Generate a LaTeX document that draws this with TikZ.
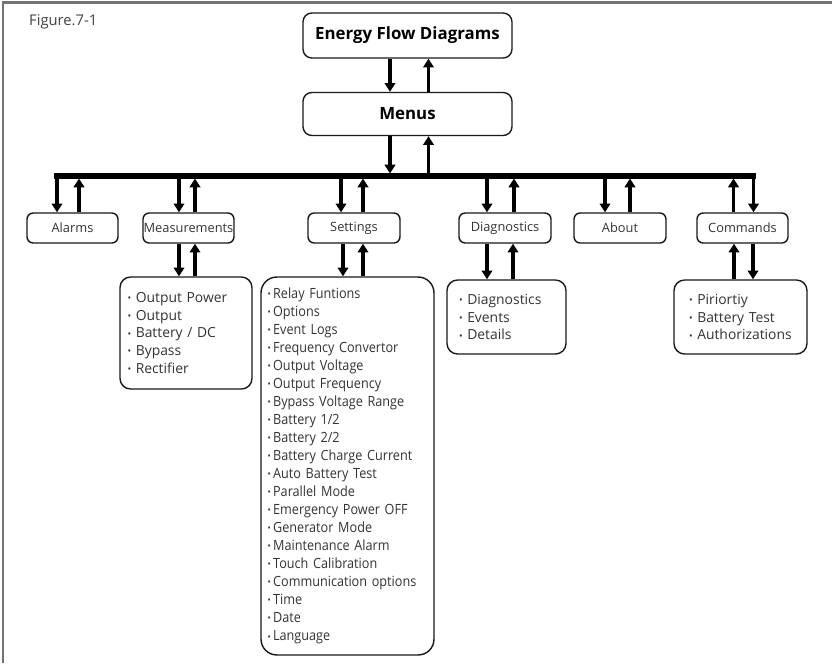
\documentclass[tikz,border=0pt]{standalone}
\usepackage{fontspec}
\setmainfont{Open Sans}
\newfontfamily\condfont[FakeStretch=0.9]{Open Sans}
\usetikzlibrary{arrows.meta,calc,positioning}
\newcommand{\itm}{\raisebox{.12ex}{\fontsize{5.5}{5}\selectfont\textbullet}}

\tikzset{
	box/.style={draw=black!90, line width=0.8pt, rounded corners=3.5pt, text=black!80,
		font=\fontsize{7.3}{9}\selectfont, minimum height=6mm, inner sep=0pt},
	topbox/.style={box, rounded corners=5pt, text=black, font=\bfseries\fontsize{9.6}{11}\selectfont},
	listbox/.style={box, rounded corners=6pt, align=left, font=\fontsize{7.9}{10.2}\selectfont},
	setlist/.style={listbox, rounded corners=9pt, font=\condfont\fontsize{8}{10.26}\selectfont},
	arr/.style={line width=1.8pt, -{Triangle[width=6pt,length=5pt]}},
	bus/.style={line width=2.9pt},
	frame/.style={draw=black!55, line width=1.4pt}
}

\begin{document}
\begin{tikzpicture}[x=0.02cm, y=-0.02cm]
		%%%%% START %%%%%
		\useasboundingbox (0,0) rectangle (832,663);
		\draw[frame] (3,663) -- (3,2.5) -- (832,2.5);
		
		\node[anchor=west, text=black!75, font=\fontsize{8.4}{10}\selectfont] (fig) at (23,22) {Figure.7-1};
		
		% top of the menu tree
		\node[topbox, minimum width=41.8mm, minimum height=9mm] (efd) at (407.5,35.5) {Energy Flow Diagrams};
		\node[topbox, minimum width=41.8mm, minimum height=8.6mm] (menus) at (407.5,114) {Menus};
		\draw[arr] ($(efd.south)+(-17.5,0)$) -- ($(menus.north)+(-17.5,0)$);
		\draw[arr] ($(menus.north)+(21,0)$) -- ($(efd.south)+(21,0)$);
		
		% bus
		\coordinate (busL) at (54,176);
		\coordinate (busR) at (756,176);
		\coordinate (busT) at (0,173.5);
		\coordinate (busB) at (0,178.5);
		\draw[bus] (busL) -- (busR);
		\coordinate (mdn) at ($(menus.south)+(-17.5,0)$);
		\coordinate (mup) at ($(menus.south)+(21,0)$);
		\draw[arr] (mdn) -- (mdn |- busT);
		\draw[arr] (mup |- busT) -- (mup);
		
		% menu items
		\node[box, minimum width=18.2mm] (alarms) at (72.5,228) {Alarms};
		\node[box, minimum width=18.2mm] (meas) at (188.5,228) {Measurements};
		\node[box, minimum width=18.4mm] (sett) at (354,228) {Settings};
		\node[box, minimum width=18.4mm] (diag) at (505,228) {Diagnostics};
		\node[box, minimum width=18.4mm] (about) at (620,228) {About};
		\node[box, minimum width=18.2mm] (cmd) at (742.5,228) {Commands};
		
		\foreach \n/\a/\b in {alarms/-15.5/6.5, meas/-9.5/6.5, sett/-13/9, diag/-18/9, about/-15/10} {
			\coordinate (\n-dn) at ($(\n.north)+(\a,0)$);
			\coordinate (\n-up) at ($(\n.north)+(\b,0)$);
			\draw[arr] (\n-dn |- busB) -- (\n-dn);
			\draw[arr] (\n-up) -- (\n-up |- busB);
		}
		\coordinate (cmd-up) at ($(cmd.north)+(-9,0)$);
		\coordinate (cmd-dn) at ($(cmd.north)+(11,0)$);
		\draw[arr] (cmd-up) -- (cmd-up |- busB);
		\draw[arr] (cmd-dn |- busB) -- (cmd-dn);
		
		% sub lists
		\node[listbox, minimum width=26.4mm, text width=23.4mm, minimum height=22.4mm] (measlist) at (186,333)
			{\itm{} Output Power\\ \itm{} Output\\ \itm{} Battery / DC\\ \itm{} Bypass\\ \itm{} Rectifier};
		\node[setlist, minimum width=34.6mm, text width=32mm, minimum height=75.6mm] (settlist) at (347.5,466)
			{\itm\,Relay Funtions\\ \itm\,Options\\ \itm\,Event Logs\\ \itm\,Frequency Convertor\\
			 \itm\,Output Voltage\\ \itm\,Output Frequency\\ \itm\,Bypass Voltage Range\\ \itm\,Battery 1/2\\
			 \itm\,Battery 2/2\\ \itm\,Battery Charge Current\\ \itm\,Auto Battery Test\\ \itm\,Parallel Mode\\
			 \itm\,Emergency Power OFF\\ \itm\,Generator Mode\\ \itm\,Maintenance Alarm\\ \itm\,Touch Calibration\\
			 \itm\,Communication options\\ \itm\,Time\\ \itm\,Date\\ \itm\,Language};
		\node[listbox, minimum width=23.8mm, text width=19mm, minimum height=14.8mm] (diaglist) at (506.5,317)
			{\itm{} Diagnostics\\ \itm{} Events\\ \itm{} Details};
		\node[listbox, minimum width=26.6mm, text width=20.6mm, minimum height=14.8mm] (cmdlist) at (740.5,317)
			{\itm{} Piriortiy\\ \itm{} Battery Test\\ \itm{} Authorizations};
		
		\foreach \n/\l/\a/\b in {meas/measlist/-9.5/6.5, sett/settlist/-11/9, diag/diaglist/-18/8} {
			\coordinate (\n-ldn) at ($(\n.south)+(\a,0)$);
			\coordinate (\n-lup) at ($(\n.south)+(\b,0)$);
			\draw[arr] (\n-ldn) -- (\n-ldn |- \l.north);
			\draw[arr] (\n-lup |- \l.north) -- (\n-lup);
		}
		\coordinate (cmd-lup) at ($(cmd.south)+(-8.5,0)$);
		\coordinate (cmd-ldn) at ($(cmd.south)+(10.5,0)$);
		\draw[arr] (cmd-lup |- cmdlist.north) -- (cmd-lup);
		\draw[arr] (cmd-ldn) -- (cmd-ldn |- cmdlist.north);
		%%%%% END %%%%%
	\end{tikzpicture}
\end{document}
